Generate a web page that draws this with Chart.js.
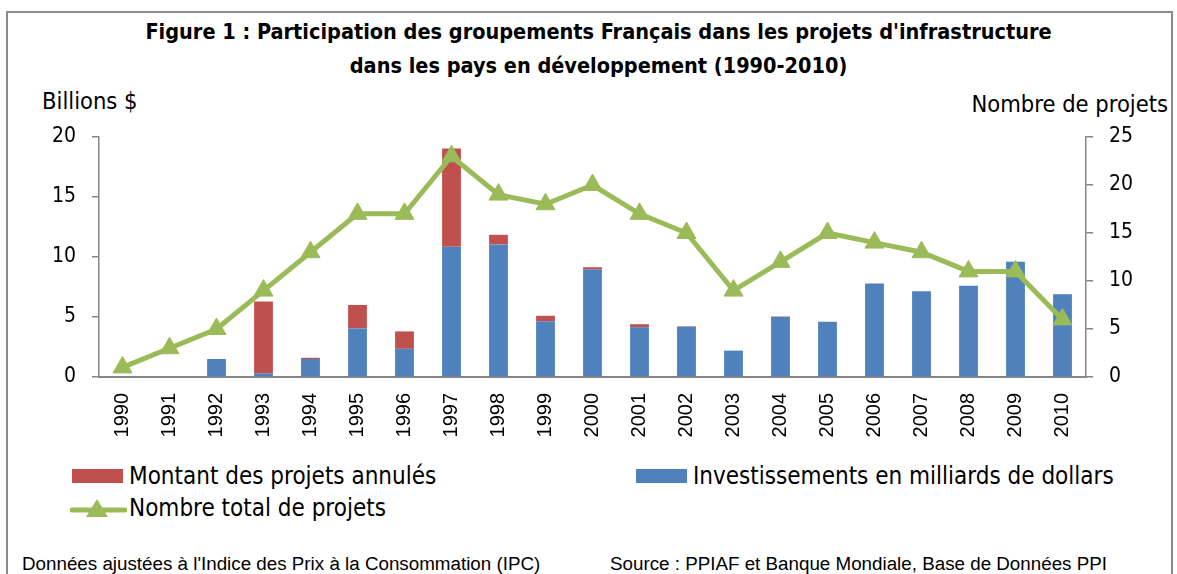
<!DOCTYPE html>
<html lang="fr">
<head>
<meta charset="UTF-8">
<title>Figure 1</title>
<script src="https://cdn.jsdelivr.net/npm/chart.js@4.4.1/dist/chart.umd.min.js"></script>
<style>
  body { margin: 0; background: #fff; width: 1177px; height: 574px; overflow: hidden; position: relative; }
  .frame { position: absolute; left: 6px; top: 11px; width: 1167px; height: 600px; border: 2px solid #8c8c8c; box-sizing: border-box; }
  .narrow { font-family: 'Liberation Sans Narrow', 'DejaVu Sans Condensed', 'Roboto', sans-serif; color: #000; }
  .txt { position: absolute; white-space: nowrap; }
  #title { left: 0; width: 1197px; top: 15px; text-align: center; font-weight: bold; font-size: 21.5px; line-height: 34px; }
  #ytitle { left: 42px; top: 87px; font-size: 23.5px; }
  #y1title { right: 9px; top: 90px; font-size: 23.5px; }
  #chartWrap { position: absolute; left: 0; top: 0; width: 1177px; height: 450px; }
  .leg { position: absolute; display: flex; align-items: center; font-size: 24px; white-space: nowrap; }
  .swatch { width: 51px; height: 14px; margin-right: 6px; }
  .foot { position: absolute; top: 553px; font-family: 'Liberation Sans', Arial, sans-serif; font-size: 18.8px; }
</style>
</head>
<body>
<div class="frame"></div>
<div id="title" class="txt narrow">Figure 1 : Participation des groupements Français dans les projets d'infrastructure<br>dans les pays en développement (1990-2010)</div>
<div id="ytitle" class="txt narrow">Billions $</div>
<div id="y1title" class="txt narrow">Nombre de projets</div>
<div id="chartWrap"><canvas id="chart" width="1177" height="450"></canvas></div>
<div id="legend"></div>
<div class="foot" style="left:22px">Données ajustées à l'Indice des Prix à la Consommation (IPC)</div>
<div class="foot" style="left:610px">Source : PPIAF et Banque Mondiale, Base de Données PPI</div>

<script>
// data
const years = ['1990','1991','1992','1993','1994','1995','1996','1997','1998','1999','2000',
               '2001','2002','2003','2004','2005','2006','2007','2008','2009','2010']
const investissements = [0, 0, 1.5, 0.3, 1.5, 4.05, 2.35, 10.85, 11.05, 4.65, 8.95,
                         4.15, 4.2, 2.2, 5.0, 4.6, 7.8, 7.15, 7.6, 9.6, 6.9]
const annules = [0, 0, 0, 6.0, 0.1, 1.95, 1.45, 8.2, 0.8, 0.45, 0.2,
                 0.25, 0.03, 0, 0.04, 0, 0, 0, 0, 0, 0]
const nbProjets = [1, 3, 5, 9, 13, 17, 17, 23, 19, 18, 20, 17, 15, 9, 12, 15, 14, 13, 11, 11, 6]

const labelAnnules = 'Montant des projets annulés'
const labelInvest = 'Investissements en milliards de dollars'
const labelProjets = 'Nombre total de projets'

const blue = '#4F81BD'
const red = '#C0504D'
const green = '#9BBB59'
const axisGray = '#868686'
const narrowFont = "'Liberation Sans Narrow', 'DejaVu Sans Condensed', 'Roboto', sans-serif"

const ctx = document.getElementById('chart').getContext('2d')
const chart = new Chart(ctx, {
    type: 'bar',
    data: {
        labels: years,
        datasets: [
            {
                label: labelInvest,
                data: investissements,
                backgroundColor: blue,
                yAxisID: 'y',
                order: 1,
                barPercentage: 0.4,
                categoryPercentage: 1
            },
            {
                label: labelAnnules,
                data: annules,
                backgroundColor: red,
                yAxisID: 'y',
                order: 1,
                barPercentage: 0.4,
                categoryPercentage: 1
            },
            {
                type: 'line',
                label: labelProjets,
                data: nbProjets,
                yAxisID: 'y1',
                order: 0,
                borderColor: green,
                borderWidth: 5,
                backgroundColor: green,
                pointStyle: 'triangle',
                pointRadius: 11,
                pointBorderWidth: 1,
                pointBackgroundColor: green,
                pointBorderColor: green,
                tension: 0
            }
        ]
    },
    options: {
        responsive: false,
        animation: false,
        layout: { padding: { top: 137, left: 0, right: 0, bottom: 0 } },
        plugins: {
            legend: { display: false },
            tooltip: { enabled: false }
        },
        scales: {
            x: {
                stacked: true,
                grid: { display: false, drawTicks: false },
                border: { color: axisGray, width: 2 },
                ticks: {
                    minRotation: 90, maxRotation: 90, padding: 16,
                    color: '#000',
                    font: { family: "'Liberation Sans', Arial, sans-serif", size: 20 }
                },
                afterFit: s => { s.height = 73 }
            },
            y: {
                stacked: true,
                position: 'left',
                min: 0, max: 20,
                ticks: { stepSize: 5, padding: 16, color: '#000', font: { family: narrowFont, size: 21 } },
                grid: { drawOnChartArea: false, tickLength: 7, color: axisGray, lineWidth: 1.5 },
                border: { color: axisGray, width: 1.5 },
                afterFit: s => { s.width = 99 }
            },
            y1: {
                position: 'right',
                min: 0, max: 25,
                ticks: { stepSize: 5, padding: 16, color: '#000', font: { family: narrowFont, size: 21 } },
                grid: { drawOnChartArea: false, tickLength: 7, color: axisGray, lineWidth: 1.5 },
                border: { color: axisGray, width: 1.5 },
                afterFit: s => { s.width = 91 }
            }
        }
    }
})

// legend built from the datasets
const legend = document.getElementById('legend')
const legItems = [
    { text: labelAnnules, color: red, type: 'box', left: 72, top: 462 },
    { text: labelInvest, color: blue, type: 'box', left: 636, top: 462 },
    { text: labelProjets, color: green, type: 'line', left: 70, top: 494 }
]
legItems.forEach(it => {
    const d = document.createElement('div')
    d.className = 'leg narrow'
    d.style.left = it.left + 'px'
    d.style.top = it.top + 'px'
    let mark
    if (it.type === 'box') {
        mark = '<div class="swatch" style="background:' + it.color + '"></div>'
    } else {
        mark = '<svg width="57" height="24" style="margin-right:2px"><line x1="2" y1="14" x2="55" y2="14" stroke="' + it.color +
               '" stroke-width="5" stroke-linecap="round"/><polygon points="27,3 38,21 16,21" fill="' + it.color + '"/></svg>'
    }
    d.innerHTML = mark + '<span>' + it.text + '</span>'
    legend.appendChild(d)
})
</script>
</body>
</html>
